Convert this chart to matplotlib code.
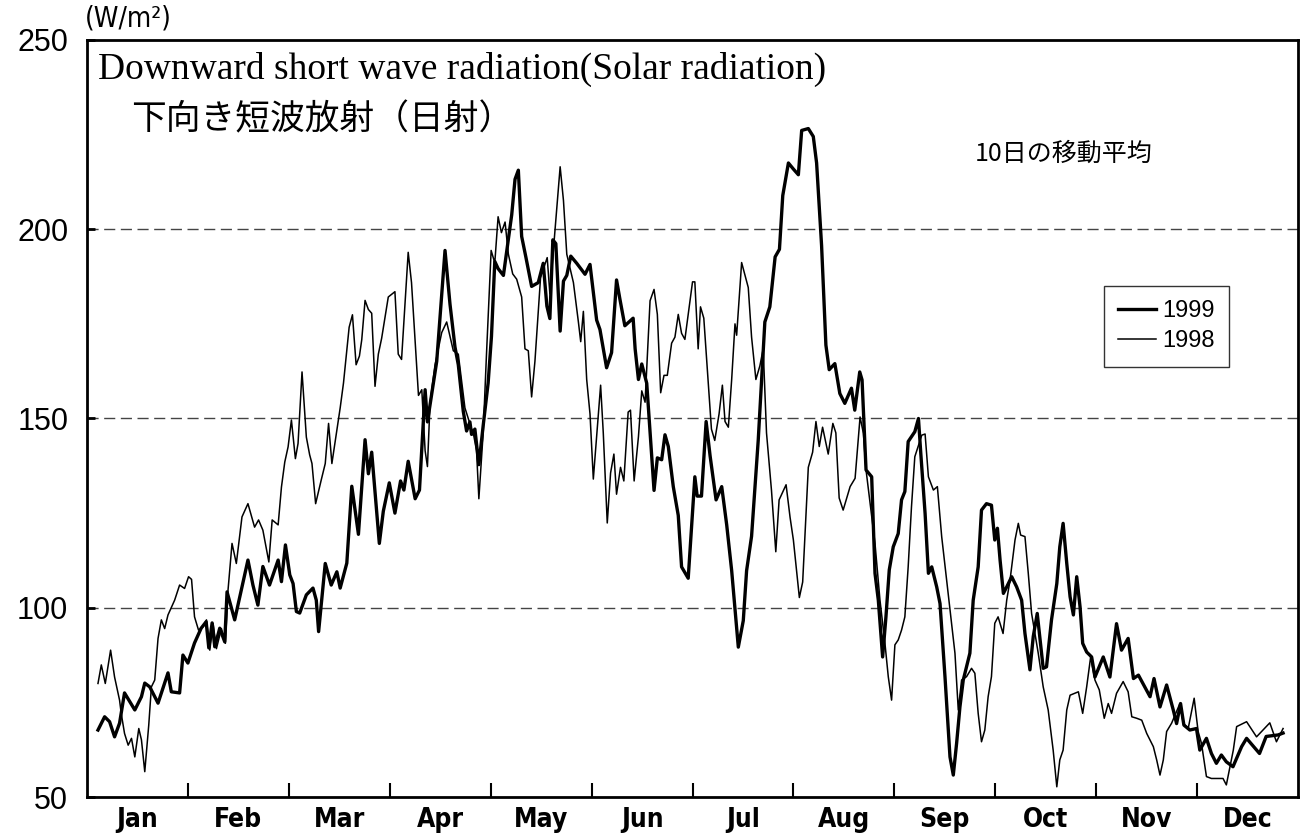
import matplotlib
matplotlib.use('Agg')
import matplotlib.pyplot as plt
import numpy as np

# 10-day running mean of downward short wave radiation
# (x is day of year, y is W/m2)
days_1999 = [3.3, 5.3, 6.8, 8.3, 9.8, 11.3, 14.4, 16.4, 17.4, 18.9, 21.4, 24.4, 25.4, 27.9,
             28.9, 30.4, 32.4, 34.4, 35.9, 36.7, 37.7, 38.5, 40.0, 41.5, 42.2, 44.5, 46.5,
             48.5, 50.0, 51.5, 53.0, 55.0, 57.6, 58.6, 59.8, 61.1, 62.1, 63.1, 64.1, 66.1,
             68.1, 69.1, 69.8, 71.8, 73.6, 75.3, 76.3, 78.3, 79.8, 81.8, 83.8, 84.8, 85.8,
             88.1, 89.3, 91.1, 92.8, 94.5, 95.5, 96.8, 98.9, 100.2, 101.9, 102.6, 103.9,
             105.4, 107.9, 109.4, 110.9, 111.9, 113.4, 114.4, 115.4, 115.9, 116.9, 118.1,
             119.4, 120.9, 121.9, 122.9, 123.9, 125.5, 128.0, 129.0, 130.0, 131.0, 132.3,
             134.0, 136.0, 137.5, 138.6, 139.5, 140.4, 141.3, 142.6, 143.6, 144.6, 145.8,
             147.6, 150.1, 151.6, 153.6, 154.6, 156.6, 158.1, 159.6, 160.6, 162.1, 164.6,
             165.2, 166.2, 167.2, 168.7, 170.2, 170.9, 171.9, 173.2, 174.2, 175.2, 176.7,
             178.2, 179.2, 181.2, 183.2, 183.9, 185.2, 186.6, 187.8, 189.6, 191.3, 192.8,
             194.3, 196.3, 197.8, 198.8, 200.3, 202.3, 204.3, 205.8, 207.4, 208.7, 209.7,
             211.4, 212.9, 214.4, 215.4, 217.4, 218.9, 219.9, 221.4, 222.7, 223.7, 225.4,
             226.9, 228.4, 230.4, 231.4, 232.9, 233.6, 234.8, 236.5, 237.5, 238.5, 239.8,
             240.8, 241.8, 243.0, 244.5, 245.5, 246.5, 247.5, 249.5, 250.6, 251.3, 252.6,
             253.6, 254.6, 256.1, 257.1, 258.6, 260.1, 261.1, 262.1, 263.1, 264.1, 266.1,
             267.1, 268.6, 269.6, 271.1, 272.6, 273.6, 274.4, 275.2, 276.2, 277.2, 278.7,
             280.2, 281.7, 282.7, 284.2, 285.2, 286.4, 288.2, 289.2, 290.7, 292.3, 293.2,
             294.2, 295.3, 296.3, 297.3, 298.3, 299.3, 300.1, 301.3, 302.8, 303.8, 306.3,
             308.3, 310.3, 311.8, 313.8, 315.4, 316.9, 320.4, 321.6, 323.4, 325.4, 327.4,
             328.4, 329.6, 330.6, 332.4, 334.4, 335.4, 337.4, 338.9, 340.4, 341.9, 343.4,
             345.4, 348.0, 349.5, 353.4, 355.4, 359.0, 360.5]
vals_1999 = [67.7, 71.2, 69.9, 65.9, 69.5, 77.5, 73.0, 76.5, 80.1, 79.1, 74.8, 82.8, 77.8, 77.5,
             87.5, 85.4, 90.7, 94.6, 96.3, 89.4, 96.0, 89.7, 94.6, 91.0, 104.2, 96.8, 104.7,
             112.6, 106.0, 100.7, 110.9, 106.0, 112.6, 106.9, 116.6, 108.7, 106.4, 99.0, 98.6,
             103.4, 105.2, 102.0, 93.7, 111.7, 106.0, 109.5, 105.2, 111.8, 132.1, 119.4, 144.4,
             135.4, 141.1, 117.0, 125.5, 133.0, 125.0, 133.5, 131.1, 138.7, 128.8, 131.1,
             157.6, 149.1, 156.6, 165.1, 194.4, 180.2, 168.9, 164.2, 151.9, 146.7, 149.1,
             145.8, 147.2, 137.8, 148.1, 159.4, 171.7, 191.5, 189.6, 187.8, 203.8, 213.2,
             215.6, 198.1, 192.5, 184.9, 185.9, 191.0, 179.7, 176.4, 197.2, 196.2, 173.1,
             186.3, 187.8, 192.9, 191.0, 188.1, 190.7, 176.0, 173.5, 163.4, 167.4, 186.6,
             181.6, 174.5, 176.5, 168.4, 160.3, 164.4, 159.3, 140.1, 131.0, 139.6, 139.1,
             145.7, 142.6, 132.0, 124.4, 110.8, 107.8, 134.6, 129.5, 129.5, 149.2, 140.1,
             128.5, 132.0, 121.9, 109.8, 89.6, 96.6, 109.8, 118.9, 144.2, 175.5, 179.5,
             192.7, 194.7, 208.9, 217.5, 215.9, 214.4, 226.1, 226.6, 224.5, 217.5, 195.7,
             169.4, 162.9, 164.5, 156.6, 154.0, 158.0, 152.2, 162.3, 160.2, 136.4, 134.6,
             109.1, 102.0, 87.0, 97.6, 110.0, 116.1, 119.6, 128.5, 130.7, 143.9, 146.5,
             150.0, 140.8, 124.9, 109.1, 110.8, 105.5, 101.1, 81.7, 60.6, 55.8, 64.2, 73.8,
             80.9, 88.0, 102.0, 110.8, 125.8, 127.5, 127.1, 117.9, 121.0, 112.6, 103.8,
             105.5, 108.2, 105.5, 102.0, 93.2, 83.6, 92.4, 98.5, 84.0, 84.4, 96.8, 106.4,
             116.1, 122.3, 111.7, 102.9, 98.1, 108.2, 100.3, 90.6, 88.3, 87.0, 81.7, 87.0,
             81.7, 95.8, 88.8, 91.9, 81.3, 82.2, 76.5, 81.3, 73.8, 79.6, 73.0, 69.4, 74.7,
             69.0, 67.7, 68.1, 62.4, 65.5, 61.5, 58.9, 61.1, 59.3, 58.0, 63.3, 65.5, 61.5,
             66.0, 66.4, 66.9]

days_1998 = [3.3, 4.3, 5.5, 7.1, 8.3, 9.8, 10.3, 11.3, 12.4, 13.4, 14.4, 15.6, 16.4, 17.4,
             18.6, 19.4, 20.4, 21.4, 22.4, 23.4, 24.4, 26.4, 27.9, 29.4, 30.6, 31.5, 32.4,
             33.6, 35.0, 36.0, 37.0, 38.0, 39.0, 40.5, 41.7, 42.5, 43.7, 45.0, 46.7, 48.5,
             50.5, 51.7, 53.0, 54.8, 55.8, 57.6, 58.6, 59.6, 60.6, 61.6, 62.8, 63.6, 64.8,
             66.1, 67.1, 67.8, 68.9, 70.6, 71.8, 72.8, 73.8, 76.3, 77.3, 79.0, 80.0, 81.1,
             82.1, 82.8, 83.8, 84.8, 85.8, 86.8, 87.8, 88.8, 90.8, 92.8, 93.8, 94.8, 96.8,
             97.8, 99.9, 100.9, 101.9, 102.6, 103.4, 104.9, 106.9, 108.4, 110.4, 111.9,
             113.9, 116.6, 117.4, 118.1, 119.4, 120.4, 121.8, 122.9, 123.9, 124.9, 126.0,
             127.0, 128.3, 129.5, 131.0, 132.0, 133.0, 134.0, 135.0, 136.7, 138.7, 139.5,
             142.6, 143.6, 144.6, 146.6, 148.1, 148.8, 149.6, 150.6, 151.6, 152.6, 153.6,
             154.8, 155.6, 156.8, 157.8, 158.8, 159.6, 160.8, 161.8, 163.1, 163.8, 164.9,
             166.2, 167.2, 168.2, 169.7, 170.9, 171.9, 172.9, 173.9, 174.9, 176.2, 177.2,
             178.2, 179.2, 180.2, 182.5, 183.2, 184.2, 184.9, 185.9, 187.2, 188.2, 189.2,
             190.5, 191.5, 192.3, 193.3, 194.3, 195.3, 195.8, 197.3, 199.3, 200.3, 201.6,
             202.8, 203.8, 204.8, 206.3, 207.6, 208.6, 210.7, 211.9, 212.9, 214.7, 215.7,
             217.4, 218.7, 219.7, 220.7, 221.7, 223.4, 224.8, 225.7, 226.7, 227.9, 230.0,
             231.5, 233.0, 234.0, 234.8, 237.5, 239.0, 240.5, 241.5, 242.5, 243.5, 244.5,
             245.5, 246.5, 247.5, 248.5, 249.5, 251.6, 252.6, 253.6, 255.1, 256.3, 257.6,
             259.1, 260.6, 261.6, 262.6, 263.6, 265.1, 266.6, 267.6, 268.6, 269.6, 270.6,
             271.6, 272.6, 273.6, 274.6, 276.1, 277.2, 278.2, 279.7, 280.7, 281.4, 282.7,
             283.7, 284.7, 285.7, 286.7, 288.2, 289.7, 291.2, 292.3, 293.2, 294.2, 295.3,
             296.3, 298.8, 300.1, 301.3, 302.5, 303.8, 305.1, 306.6, 307.8, 308.8, 310.3,
             312.3, 313.8, 314.9, 316.4, 317.9, 319.4, 321.4, 322.4, 323.4, 324.4, 325.4,
             326.9, 329.4, 330.4, 331.9, 333.7, 334.9, 335.9, 337.4, 338.9, 342.4, 343.4,
             344.5, 345.5, 346.5, 349.5, 352.5, 356.5, 358.5, 360.5]
vals_1998 = [80.0, 84.9, 80.0, 88.8, 81.7, 75.6, 72.1, 66.8, 63.7, 65.5, 60.6, 68.1, 65.1, 56.7,
             69.0, 79.1, 80.9, 91.9, 96.8, 94.5, 98.1, 102.0, 106.0, 105.1, 108.2, 107.5, 97.6,
             94.1, 95.0, 96.8, 88.8, 95.8, 89.2, 94.5, 90.6, 104.7, 117.0, 111.7, 124.0,
             127.5, 121.3, 123.2, 120.5, 112.1, 123.2, 121.9, 131.9, 138.5, 142.5, 149.6,
             139.4, 143.4, 162.3, 145.1, 140.4, 138.1, 127.5, 133.8, 138.1, 148.7, 138.1,
             152.8, 159.4, 174.1, 177.4, 164.2, 166.5, 170.8, 181.2, 178.8, 177.8, 158.5,
             167.0, 171.2, 182.1, 183.5, 167.0, 165.6, 193.9, 185.9, 156.1, 157.6, 141.5,
             137.3, 154.3, 164.2, 172.7, 175.5, 167.9, 167.0, 152.8, 145.3, 141.5, 128.8,
             146.2, 167.0, 194.4, 191.1, 203.3, 199.1, 201.9, 193.4, 188.2, 186.8, 182.1,
             168.4, 167.9, 155.7, 165.1, 187.3, 192.5, 183.0, 216.5, 207.6, 193.4, 185.9,
             175.5, 170.3, 178.3, 160.3, 151.2, 134.0, 145.2, 158.8, 146.2, 122.4, 135.6,
             140.6, 130.0, 137.1, 133.5, 151.7, 152.2, 133.5, 145.2, 157.3, 154.3, 181.1,
             184.1, 177.5, 156.8, 161.4, 161.4, 169.9, 171.5, 177.5, 172.5, 170.9, 186.1,
             186.1, 168.4, 179.5, 176.5, 159.8, 147.2, 144.2, 151.2, 158.8, 149.2, 147.7,
             160.3, 175.0, 172.0, 191.2, 184.6, 171.5, 160.3, 163.9, 168.4, 146.2, 131.0,
             114.8, 128.5, 132.5, 123.9, 117.9, 102.7, 106.8, 137.1, 141.1, 149.2, 142.6,
             147.7, 140.6, 148.7, 146.2, 129.0, 125.8, 132.0, 134.2, 150.4, 146.1, 136.4,
             117.0, 102.0, 90.6, 81.8, 75.6, 90.2, 91.5, 94.1, 97.6, 110.8, 126.7, 139.9,
             145.6, 145.9, 134.6, 131.1, 132.0, 118.8, 107.3, 95.9, 88.0, 73.0, 80.9, 81.8,
             84.0, 82.7, 72.1, 64.6, 67.7, 76.5, 81.8, 95.9, 97.6, 93.2, 102.0, 107.3, 117.9,
             122.3, 119.2, 118.8, 109.1, 98.5, 93.2, 88.0, 79.1, 73.0, 62.4, 52.7, 59.8,
             62.4, 73.0, 76.9, 77.8, 72.1, 79.1, 87.0, 80.9, 78.3, 70.8, 74.7, 72.1, 77.4,
             80.5, 77.8, 71.2, 70.8, 70.3, 66.8, 63.3, 59.8, 55.8, 59.8, 67.3, 69.5, 74.7,
             69.5, 68.1, 76.1, 67.3, 64.2, 55.4, 54.9, 54.9, 53.2, 58.0, 62.4, 68.6, 69.9,
             65.9, 69.6, 64.6, 68.1]

months = ['Jan', 'Feb', 'Mar', 'Apr', 'May', 'Jun',
          'Jul', 'Aug', 'Sep', 'Oct', 'Nov', 'Dec']
y_ticks = [50, 100, 150, 200, 250]
grid_levels = [100, 150, 200]

plt.rcParams['font.family'] = ['Liberation Sans', 'Noto Sans CJK JP', 'DejaVu Sans']

fig = plt.figure(figsize=(13.01, 8.38), dpi=100)
ax = fig.add_axes([0.0669, 0.0489, 0.9308, 0.9034])

# dashed reference lines
for g in grid_levels:
    ax.axhline(g, color='#444444', lw=1.0, dashes=(8, 4), zorder=0)

ax.plot(days_1999, vals_1999, color='black', lw=2.4, label='1999',
        solid_joinstyle='round')
ax.plot(days_1998, vals_1998, color='black', lw=1.1, label='1998')

ax.set_xlim(0, 365)
ax.set_ylim(50, 250)

# y axis
ax.set_yticks(y_ticks)
ax.set_yticklabels([str(v) for v in y_ticks], fontsize=22)
ax.tick_params(axis='y', direction='in', length=6, width=2, pad=13.5)

# x axis: tick marks at month boundaries, names in the middle
month_len = 365 / 12
ax.set_xticks([month_len * k for k in range(1, 12)])
ax.set_xticklabels([])
ax.tick_params(axis='x', which='major', direction='in', length=10, width=1.5)
ax.set_xticks([month_len * (k + 0.5) for k in range(12)], minor=True)
ax.set_xticklabels(months, minor=True, fontsize=19, fontweight='bold',
                   family='DejaVu Sans', fontstretch='condensed')
ax.tick_params(axis='x', which='minor', length=0, pad=7)

for sp in ax.spines.values():
    sp.set_linewidth(2)

# texts
fig.text(98 / 1301, 1 - 69 / 838, 'Downward short wave radiation(Solar radiation)',
         family='Liberation Serif', fontsize=27, ha='left', va='center')
fig.text(131 / 1301, 1 - 120 / 838, '下向き短波放射（日射）',
         family='Noto Sans CJK JP', fontsize=25, ha='left', va='center')
fig.text(975 / 1301, 1 - 154 / 838, '10日の移動平均',
         family='Noto Sans CJK JP', fontsize=18, ha='left', va='center')
fig.text(85 / 1301, 1 - 18 / 838, '(W/m²)',
         family='DejaVu Sans', fontstretch='condensed', fontsize=20,
         ha='left', va='center')

leg = ax.legend(loc='upper left', bbox_to_anchor=(0.84, 0.675), frameon=True,
                fancybox=False, edgecolor='black', fontsize=17, handlelength=1.6,
                handletextpad=0.25, borderpad=0.6, labelspacing=0.35,
                borderaxespad=0)
leg.get_frame().set_linewidth(1.0)

fig.savefig('out.png', dpi=100)
